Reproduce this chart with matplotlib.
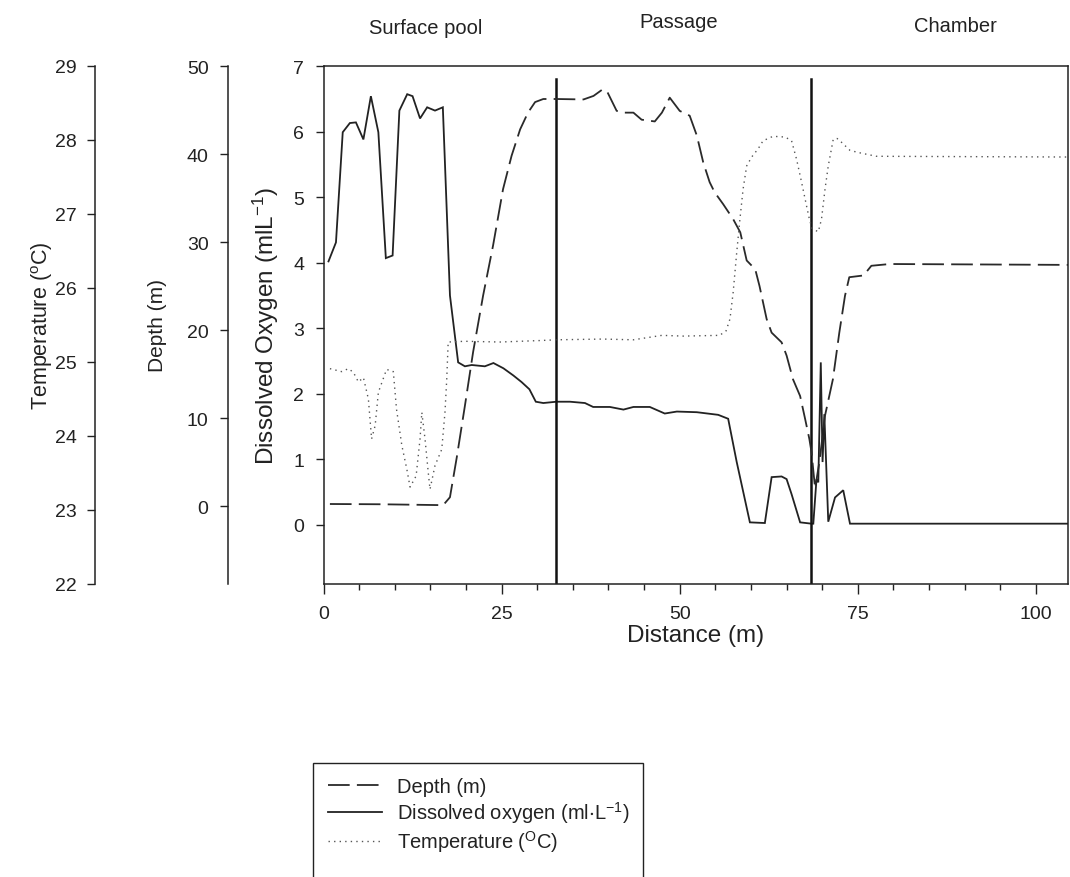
import matplotlib
matplotlib.use('Agg')
import matplotlib.pyplot as plt
from matplotlib.ticker import MultipleLocator, FixedLocator
from matplotlib.lines import Line2D
from matplotlib.patches import Rectangle

# ---------------- data ----------------
dist_do = [0.7, 1.75, 2.7, 3.7, 4.55, 5.6, 6.65, 7.7, 8.75, 9.7, 10.65, 11.75, 12.5,
           13.55, 14.55, 15.65, 16.75, 17.75, 18.9, 19.85, 20.8, 22.65, 23.85, 25.25,
           26.65, 27.8, 28.9, 29.8, 30.85, 32.7, 34.6, 36.7, 37.85, 40.2, 42.1, 43.5,
           45.8, 47.9, 49.6, 52.4, 55.4, 56.8, 58.0, 59.85, 61.95, 62.9, 64.3, 65.0,
           65.7, 66.9, 68.5, 68.75, 69.2, 69.45, 69.8, 70.05, 70.3, 70.85, 71.8, 72.95,
           73.9, 85.0, 104.5]
dissolved_oxygen = [4.02, 4.31, 5.99, 6.13, 6.14, 5.88, 6.54, 5.99, 4.07, 4.11, 6.32, 6.57,
                    6.54, 6.2, 6.37, 6.32, 6.37, 3.5, 2.48, 2.42, 2.44, 2.42, 2.47, 2.39,
                    2.28, 2.18, 2.07, 1.88, 1.86, 1.88, 1.88, 1.86, 1.8, 1.8, 1.76, 1.8,
                    1.8, 1.7, 1.73, 1.72, 1.68, 1.62, 0.96, 0.04, 0.03, 0.73, 0.74, 0.7,
                    0.47, 0.04, 0.02, 0.02, 0.7, 0.65, 2.48, 0.96, 1.69, 0.05, 0.42, 0.53,
                    0.02, 0.02, 0.02]

dist_depth = [0.9, 8.0, 15.9, 16.8, 17.75, 18.7, 19.85, 21.0, 22.4, 23.8, 25.2, 26.4,
              27.6, 28.7, 29.7, 30.85, 32.7, 36.5, 37.9, 39.1, 39.75, 41.15, 42.3, 43.5,
              44.65, 46.5, 47.5, 48.6, 50.0, 51.4, 52.4, 53.3, 54.2, 54.9, 56.1, 57.5,
              58.5, 59.4, 60.6, 61.2, 62.2, 62.9, 64.3, 65.0, 65.9, 66.9, 67.6, 68.2,
              68.5, 69.0, 69.6, 70.4, 71.5, 72.4, 73.2, 73.8, 75.8, 76.9, 79.5, 104.5]
depth = [0.23, 0.2, 0.11, 0.1, 1.0, 5.5, 11.4, 17.5, 23.9, 29.6, 36.0, 39.8, 42.8, 44.7,
         45.9, 46.25, 46.25, 46.2, 46.6, 47.3, 47.2, 44.9, 44.7, 44.7, 43.9, 43.7, 44.7,
         46.4, 44.9, 44.35, 42.1, 39.05, 36.8, 35.65, 34.3, 32.6, 31.1, 27.9, 26.9, 25.0,
         21.25, 19.7, 18.6, 17.1, 14.4, 12.5, 9.9, 7.6, 6.1, 2.0, 5.0, 10.3, 14.4, 19.7,
         23.9, 26.0, 26.2, 27.3, 27.5, 27.4]

dist_temp = [0.9, 2.55, 3.5, 4.2, 4.9, 5.6, 6.3, 6.75, 7.25, 7.7, 8.85, 9.8, 10.25, 11.0,
             11.7, 12.15, 13.0, 13.55, 13.8, 14.25, 14.7, 14.95, 15.65, 16.6, 17.05, 17.3,
             17.5, 19.85, 24.8, 30.4, 32.7, 39.2, 43.5, 47.5, 50.5, 55.6, 56.5, 57.05,
             57.5, 58.0, 58.45, 58.9, 59.4, 60.1, 61.0, 61.7, 63.1, 64.8, 65.7, 66.4,
             66.9, 67.3, 67.8, 68.2, 68.6, 69.45, 69.9, 70.4, 70.85, 71.55, 72.1, 72.7,
             73.9, 75.1, 77.6, 104.5]
temperature = [24.91, 24.87, 24.91, 24.86, 24.73, 24.79, 24.5, 23.96, 24.14, 24.59, 24.9,
               24.87, 24.36, 23.87, 23.55, 23.31, 23.46, 23.96, 24.32, 23.96, 23.51, 23.28,
               23.6, 23.82, 24.32, 24.77, 25.27, 25.28, 25.27, 25.29, 25.3, 25.31, 25.3,
               25.36, 25.35, 25.36, 25.42, 25.58, 25.94, 26.48, 26.93, 27.34, 27.65, 27.77,
               27.88, 27.99, 28.05, 28.04, 27.99, 27.74, 27.52, 27.34, 27.11, 26.93, 26.8,
               26.76, 26.93, 27.34, 27.65, 28.01, 28.02, 27.97, 27.86, 27.83, 27.78, 27.77]

boundaries = [32.6, 68.4]
regions = ["Surface pool", "Passage", "Chamber"]
x_ticks = [0, 25, 50, 75, 100]
do_ticks = [0, 1, 2, 3, 4, 5, 6, 7]
depth_ticks = [0, 10, 20, 30, 40, 50]
temp_ticks = [22, 23, 24, 25, 26, 27, 28, 29]

# ---------------- style ----------------
plt.rcParams['font.family'] = ['Liberation Sans', 'DejaVu Sans']
plt.rcParams['mathtext.fontset'] = 'custom'
plt.rcParams['mathtext.rm'] = 'Liberation Sans'
plt.rcParams['mathtext.it'] = 'Liberation Sans:italic'
plt.rcParams['mathtext.default'] = 'regular'

INK = '#222222'
W, H = 1070, 878
fig = plt.figure(figsize=(W / 100, H / 100), dpi=100)
L, R, T, B = 323.5, 1068, 67, 585
ax = fig.add_axes([L / W, 1 - B / H, (R - L) / W, (B - T) / H])
ax_d = ax.twinx()
ax_t = ax.twinx()

TICK_FS = 14

# main axis (dissolved oxygen)
ax.set_xlim(0, 104.5)
ax.set_ylim(-0.9, 7)
ax.xaxis.set_major_locator(FixedLocator(x_ticks))
ax.xaxis.set_minor_locator(MultipleLocator(5))
ax.yaxis.set_major_locator(FixedLocator(do_ticks))
for s in ax.spines.values():
    s.set_color(INK)
    s.set_linewidth(1.1)
ax.tick_params(axis='both', which='major', direction='out', length=7, width=1.0,
               color=INK, labelsize=TICK_FS, labelcolor=INK, pad=8)
ax.tick_params(axis='x', which='minor', direction='out', length=4, width=1.0, color=INK)
ax.tick_params(axis='y', which='major', length=6, pad=8)

# depth axis
ax_d.set_ylim(-8.86, 50)
ax_d.yaxis.set_major_locator(FixedLocator(depth_ticks))
for k in ['right', 'top', 'bottom']:
    ax_d.spines[k].set_visible(False)
ax_d.spines['left'].set_position(('axes', (228 - L) / (R - L)))
ax_d.spines['left'].set_color(INK)
ax_d.spines['left'].set_linewidth(1.1)
ax_d.yaxis.set_ticks_position('left')
ax_d.yaxis.set_label_position('left')
ax_d.tick_params(axis='y', direction='out', length=6, width=1.0, color=INK,
                 labelsize=TICK_FS, labelcolor=INK, pad=8)

# temperature axis
ax_t.set_ylim(22, 29)
ax_t.yaxis.set_major_locator(FixedLocator(temp_ticks))
for k in ['right', 'top', 'bottom']:
    ax_t.spines[k].set_visible(False)
ax_t.spines['left'].set_position(('axes', (95 - L) / (R - L)))
ax_t.spines['left'].set_color(INK)
ax_t.spines['left'].set_linewidth(1.1)
ax_t.yaxis.set_ticks_position('left')
ax_t.yaxis.set_label_position('left')
ax_t.tick_params(axis='y', direction='out', length=6, width=1.0, color=INK,
                 labelsize=TICK_FS, labelcolor=INK, pad=7)

# data lines
ax.plot(dist_do, dissolved_oxygen, color=INK, lw=1.3, solid_joinstyle='miter')
ax_d.plot(dist_depth, depth, color='#2a2a2a', lw=1.3, linestyle=(0, (12, 4)))
ax_t.plot(dist_temp, temperature, color='#555555', lw=1.0, linestyle=(0, (1, 3)))

# region boundaries
for xb in boundaries:
    ax.plot([xb, xb], [-0.9, 6.8], color='#111111', lw=1.8)

# labels
ax.set_ylabel('Dissolved Oxygen (mlL$^{-1}$)', fontsize=17.5, color=INK)
ax.yaxis.set_label_coords((281 - L) / (R - L), 0.5)
ax_d.set_ylabel('Depth (m)', fontsize=15, color=INK)
ax_d.yaxis.set_label_coords((167 - L) / (R - L), 0.5)
ax_t.set_ylabel('Temperature ($^{o}$C)', fontsize=15.5, color=INK)
ax_t.yaxis.set_label_coords((55 - L) / (R - L), 0.5)
ax.set_xlabel('Distance (m)', fontsize=17.5, color=INK)
ax.xaxis.set_label_coords(0.5, (B - 625) / (B - T))

# region names
fig.text(426 / W, 1 - 28 / H, regions[0], ha='center', va='center', fontsize=14.5, color=INK)
fig.text(679 / W, 1 - 22 / H, regions[1], ha='center', va='center', fontsize=14.5, color=INK)
fig.text(955 / W, 1 - 26 / H, regions[2], ha='center', va='center', fontsize=14.5, color=INK)

# legend
handles = [Line2D([], [], color='#2a2a2a', lw=1.3, linestyle=(0, (12, 4))),
           Line2D([], [], color=INK, lw=1.3),
           Line2D([], [], color='#555555', lw=1.0, linestyle=(0, (1, 3)))]
labels = ['Depth (m)', 'Dissolved oxygen (ml$\\cdot$L$^{-1}$)', 'Temperature ($^{O}$C)']
fig.legend(handles, labels, loc='upper left', bbox_to_anchor=(328 / W, 1 - 778 / H),
           frameon=False, fontsize=14.5, handlelength=2.7, handletextpad=0.75,
           labelspacing=0.15, borderpad=0, borderaxespad=0, labelcolor=INK)
fig.patches.append(Rectangle((313 / W, -0.05), (643 - 313) / W, (1 - 764 / H) + 0.05,
                             transform=fig.transFigure, fill=False, edgecolor=INK,
                             lw=1.0, clip_on=False))

fig.savefig('out.png', dpi=100)
